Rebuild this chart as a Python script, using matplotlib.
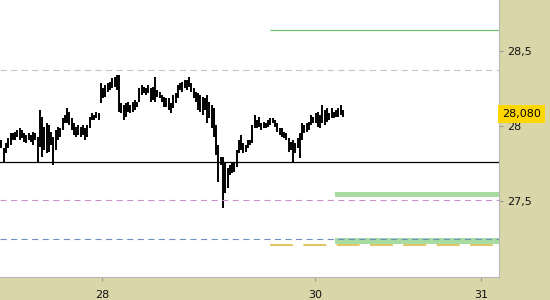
import numpy as np
import matplotlib.pyplot as plt

# %% Data (one entry per bar, high / low)
highs = [
    27.907, 27.853, 27.887, 27.920, 27.953, 27.953, 27.960, 27.973, 27.987, 27.973,
    27.953, 27.940, 27.953, 27.940, 27.960, 27.953, 27.927, 28.107, 28.060, 27.993,
    28.020, 28.007, 27.960, 27.927, 27.973, 27.993, 27.987, 28.053, 28.073, 28.120,
    28.093, 28.053, 28.020, 27.993, 28.007, 27.993, 28.007, 27.987, 28.007,
    28.060, 28.087, 28.073, 28.093, 28.087, 28.287, 28.253, 28.273, 28.287, 28.293,
    28.320, 28.327, 28.340, 28.340, 28.153, 28.140, 28.153, 28.160, 28.140, 28.160,
    28.173, 28.160, 28.253, 28.273, 28.260, 28.253, 28.273, 28.253, 28.260, 28.327,
    28.240, 28.227, 28.207, 28.193, 28.187, 28.187, 28.153, 28.207,
    28.220, 28.273, 28.287, 28.293, 28.307, 28.307, 28.327, 28.287, 28.253, 28.227,
    28.220, 28.207, 28.193, 28.187, 28.207, 28.160, 28.140, 28.120, 28.007, 27.873,
    27.793, 27.793, 27.760, 27.720, 27.740, 27.760, 27.760, 27.840, 27.907, 27.940,
    27.887, 27.873, 27.907, 27.907, 28.007, 28.073, 28.040, 28.060,
    28.020, 28.027, 28.020, 28.040, 28.053, 28.053, 28.040, 28.020, 27.987, 27.987,
    27.960, 27.953, 27.920, 27.893, 27.907, 27.887, 27.920, 27.953, 28.020, 28.007,
    28.020, 28.027, 28.073, 28.060, 28.087, 28.093, 28.073, 28.140, 28.107, 28.120,
    28.087, 28.120, 28.093, 28.107, 28.120, 28.140, 28.107,
]
lows = [
    27.853, 27.753, 27.820, 27.853, 27.873, 27.907, 27.907, 27.927, 27.907, 27.920,
    27.893, 27.887, 27.907, 27.893, 27.873, 27.907, 27.753, 27.860, 27.793, 27.840,
    27.820, 27.827, 27.873, 27.740, 27.840, 27.907, 27.927, 27.973, 28.020, 28.020,
    28.007, 27.973, 27.940, 27.927, 27.940, 27.927, 27.940, 27.907, 27.927,
    27.987, 28.040, 28.040, 28.053, 28.040, 28.153, 28.187, 28.193, 28.227, 28.240,
    28.253, 28.260, 28.240, 28.093, 28.087, 28.040, 28.060, 28.093, 28.087, 28.093,
    28.107, 28.127, 28.160, 28.207, 28.220, 28.207, 28.220, 28.160, 28.173, 28.160,
    28.193, 28.187, 28.160, 28.127, 28.127, 28.107, 28.087, 28.120,
    28.153, 28.187, 28.240, 28.227, 28.253, 28.240, 28.260, 28.227, 28.187, 28.160,
    28.107, 28.093, 28.073, 28.107, 28.020, 28.053, 27.987, 27.927, 27.807, 27.627,
    27.740, 27.453, 27.553, 27.587, 27.673, 27.687, 27.693, 27.727, 27.820, 27.840,
    27.820, 27.827, 27.853, 27.873, 27.887, 27.987, 27.987, 27.993,
    27.973, 27.987, 27.987, 27.993, 28.007, 28.020, 27.993, 27.960, 27.940, 27.927,
    27.920, 27.907, 27.827, 27.840, 27.760, 27.820, 27.853, 27.787, 27.907, 27.953,
    27.960, 27.973, 28.007, 28.020, 28.020, 27.993, 27.987, 28.020, 28.007, 28.027,
    28.040, 28.053, 28.053, 28.060, 28.060, 28.073, 28.060,
]
last_price = 28.080

# Horizontal levels
resistance_level = 28.643   # green line
grey_level = 28.373         # grey dashed
black_level = 27.760        # black solid
pink_level = 27.505         # pink dashed
blue_level = 27.245         # blue dashed
yellow_level = 27.207       # yellow dashed
green_bands = [(27.525, 27.562), (27.211, 27.255)]

# Axis ticks
x_tick_labels = ["28", "30", "31"]
y_tick_values = [27.5, 28.0, 28.5]
y_tick_labels = ["27,5", "28", "28,5"]

# %% Layout (bar index on x)
x_tick_pos = [44.5, 138.7, 212.2]
x_left, x_right = -0.66, 220.1
line_start = 118.8
band_start = 147.6

bg = "#d9d7a9"
fig = plt.figure(figsize=(5.5, 3), dpi=100, facecolor=bg)
ax = fig.add_axes([0, 23 / 300, 499 / 550, 277 / 300])
ax.set_facecolor("white")

x = np.arange(len(highs))
ax.vlines(x, lows, highs, color="black", linewidth=1.4)

# Levels
ax.axhline(grey_level, color="#c4c4c4", linewidth=0.8, linestyle=(0, (5.5, 4)))
ax.axhline(black_level, color="black", linewidth=0.9)
ax.axhline(pink_level, color="#c892c8", linewidth=0.8, linestyle=(0, (5.5, 4)))
ax.axhline(blue_level, color="#6f8fc0", linewidth=0.8, linestyle=(0, (5.5, 4)))
ax.hlines(resistance_level, line_start, x_right, color="#6cbf6c", linewidth=0.9)
ax.hlines(yellow_level, line_start, x_right, color="#e2c766", linewidth=1.5,
          linestyle=(0, (11, 5)))
for lo, hi in green_bands:
    ax.fill_between([band_start, x_right], lo, hi, color="#a8dca2", linewidth=0)

ax.set_xlim(x_left, x_right)
ax.set_ylim(26.993, 28.84)

# Ticks
ax.set_xticks(x_tick_pos)
ax.set_xticklabels(x_tick_labels)
ax.set_yticks(y_tick_values)
ax.set_yticklabels(y_tick_labels)
ax.yaxis.tick_right()
ax.tick_params(axis="both", colors="#999999", labelcolor="#111111", labelsize=8,
               length=3, width=0.8, direction="out")
ax.tick_params(axis="x", pad=6)
ax.tick_params(axis="y", pad=2.5)

for side in ["top", "left"]:
    ax.spines[side].set_visible(False)
for side in ["bottom", "right"]:
    ax.spines[side].set_color("#b8b8b8")
    ax.spines[side].set_linewidth(0.8)

# Last price label
ax.annotate(f"{last_price:.3f}".replace(".", ","), xy=(1.006, last_price),
            xycoords=("axes fraction", "data"), ha="left", va="center",
            fontsize=8, color="black", annotation_clip=False,
            bbox=dict(boxstyle="square,pad=0.35", facecolor="#ffd700", edgecolor="none"))

fig.savefig("out.png", dpi=100, facecolor=bg)
